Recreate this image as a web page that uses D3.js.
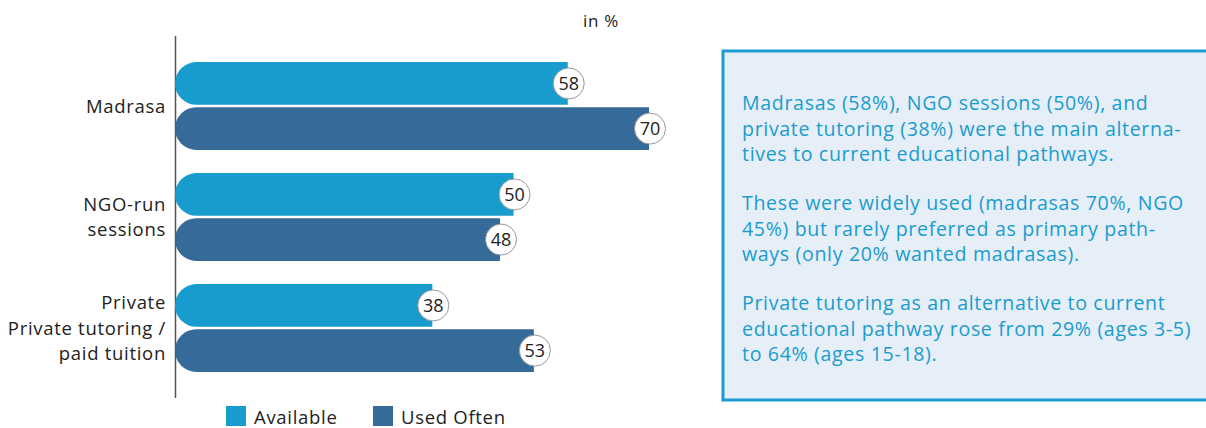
<!DOCTYPE html>
<html><head><meta charset="utf-8">
<script src="https://cdn.jsdelivr.net/npm/d3@7"></script>
<style>body{margin:0;background:#fff}svg{display:block}</style>
</head><body>
<svg id="c" width="1206" height="428"></svg>
<script>
const categories = ["Madrasa", "NGO-run sessions", "Private tutoring"];
const categoryLabels = [["Madrasa"], ["NGO-run", "sessions"], ["Private", "Private tutoring /", "paid tuition"]];
const seriesNames = ["Available", "Used Often"];
const available = [58, 50, 38];
const usedOften = [70, 48, 53];
const colors = ["#189bcd", "#366b99"];
const unitLabel = "in %";
const boxParagraphs = [
  ["Madrasas (58%), NGO sessions (50%), and", "private tutoring (38%) were the main alterna-", "tives to current educational pathways."],
  ["These were widely used (madrasas 70%, NGO", "45%) but rarely preferred as primary path-", "ways (only 20% wanted madrasas)."],
  ["Private tutoring as an alternative to current", "educational pathway rose from 29% (ages 3-5)", "to 64% (ages 15-18)."]
];

const svg = d3.select("#c");
const font = "'Open Sans', sans-serif";
const ls = 0.7;
const x = d3.scaleLinear().domain([0, 70]).range([175, 649]);
const y0 = d3.scaleBand().domain(categories).range([50, 383]).paddingInner(0.0).paddingOuter(0);
const y1 = d3.scaleBand().domain(seriesNames).range([0, 88]).paddingInner(0.05);
const series = [available, usedOften];

svg.append("line").attr("x1", 175.5).attr("x2", 175.5).attr("y1", 36).attr("y2", 398)
  .attr("stroke", "#555").attr("stroke-width", 1.5);

const groupOffset = 12;
categories.forEach((c, i) => {
  const gy = y0(c) + groupOffset;
  series.forEach((s, j) => {
    const top = gy + y1(seriesNames[j]);
    const h = y1.bandwidth();
    const r = h / 2;
    const x0 = x(0), x1 = x(s[i]);
    const p = d3.path();
    p.moveTo(x1, top);
    p.lineTo(x0 + r, top);
    p.arc(x0 + r, top + r, r, -Math.PI / 2, Math.PI / 2, true);
    p.lineTo(x1, top + h);
    p.closePath();
    svg.append("path").attr("d", p.toString()).attr("fill", colors[j]);
    svg.append("circle").attr("cx", x1 + 1).attr("cy", top + r).attr("r", 15.5)
      .attr("fill", "#fff").attr("stroke", "#999").attr("stroke-width", 1);
    svg.append("text").attr("x", x1 + 1).attr("y", top + r).attr("dy", "0.36em")
      .attr("text-anchor", "middle").attr("font-family", font).attr("font-size", 18)
      .attr("fill", "#222").text(s[i]);
  });
  const lines = categoryLabels[i];
  const cy = gy + 88 / 2;
  const lh = 25.5;
  lines.forEach((l, k) => {
    svg.append("text").attr("x", 166).attr("y", cy + (k - (lines.length - 1) / 2) * lh)
      .attr("dy", "0.36em").attr("text-anchor", "end").attr("font-family", font)
      .attr("font-size", 18.5).attr("letter-spacing", ls).attr("fill", "#222").text(l);
  });
});

svg.append("text").attr("x", 583).attr("y", 27).attr("font-family", font).attr("font-size", 17)
  .attr("letter-spacing", ls).attr("fill", "#222").text(unitLabel);

const legX = [226, 373];
seriesNames.forEach((n, j) => {
  svg.append("rect").attr("x", legX[j]).attr("y", 406).attr("width", 20).attr("height", 20).attr("fill", colors[j]);
  svg.append("text").attr("x", legX[j] + 28).attr("y", 417).attr("dy", "0.36em")
    .attr("font-family", font).attr("font-size", 18.5).attr("letter-spacing", ls)
    .attr("fill", "#222").text(n);
});

svg.append("rect").attr("x", 723).attr("y", 51).attr("width", 500).attr("height", 349)
  .attr("fill", "#e6eff7").attr("stroke", "#1b9bd0").attr("stroke-width", 3);
boxParagraphs.forEach((para, pi) => {
  para.forEach((l, k) => {
    svg.append("text").attr("x", 742).attr("y", 103 + pi * 100 + k * 25.5).attr("dy", "0.36em")
      .attr("font-family", "'Open Sans', sans-serif").attr("font-size", 19.6)
      .attr("letter-spacing", 0.65).attr("fill", "#1a9ccf").text(l);
  });
});
</script>
</body></html>
